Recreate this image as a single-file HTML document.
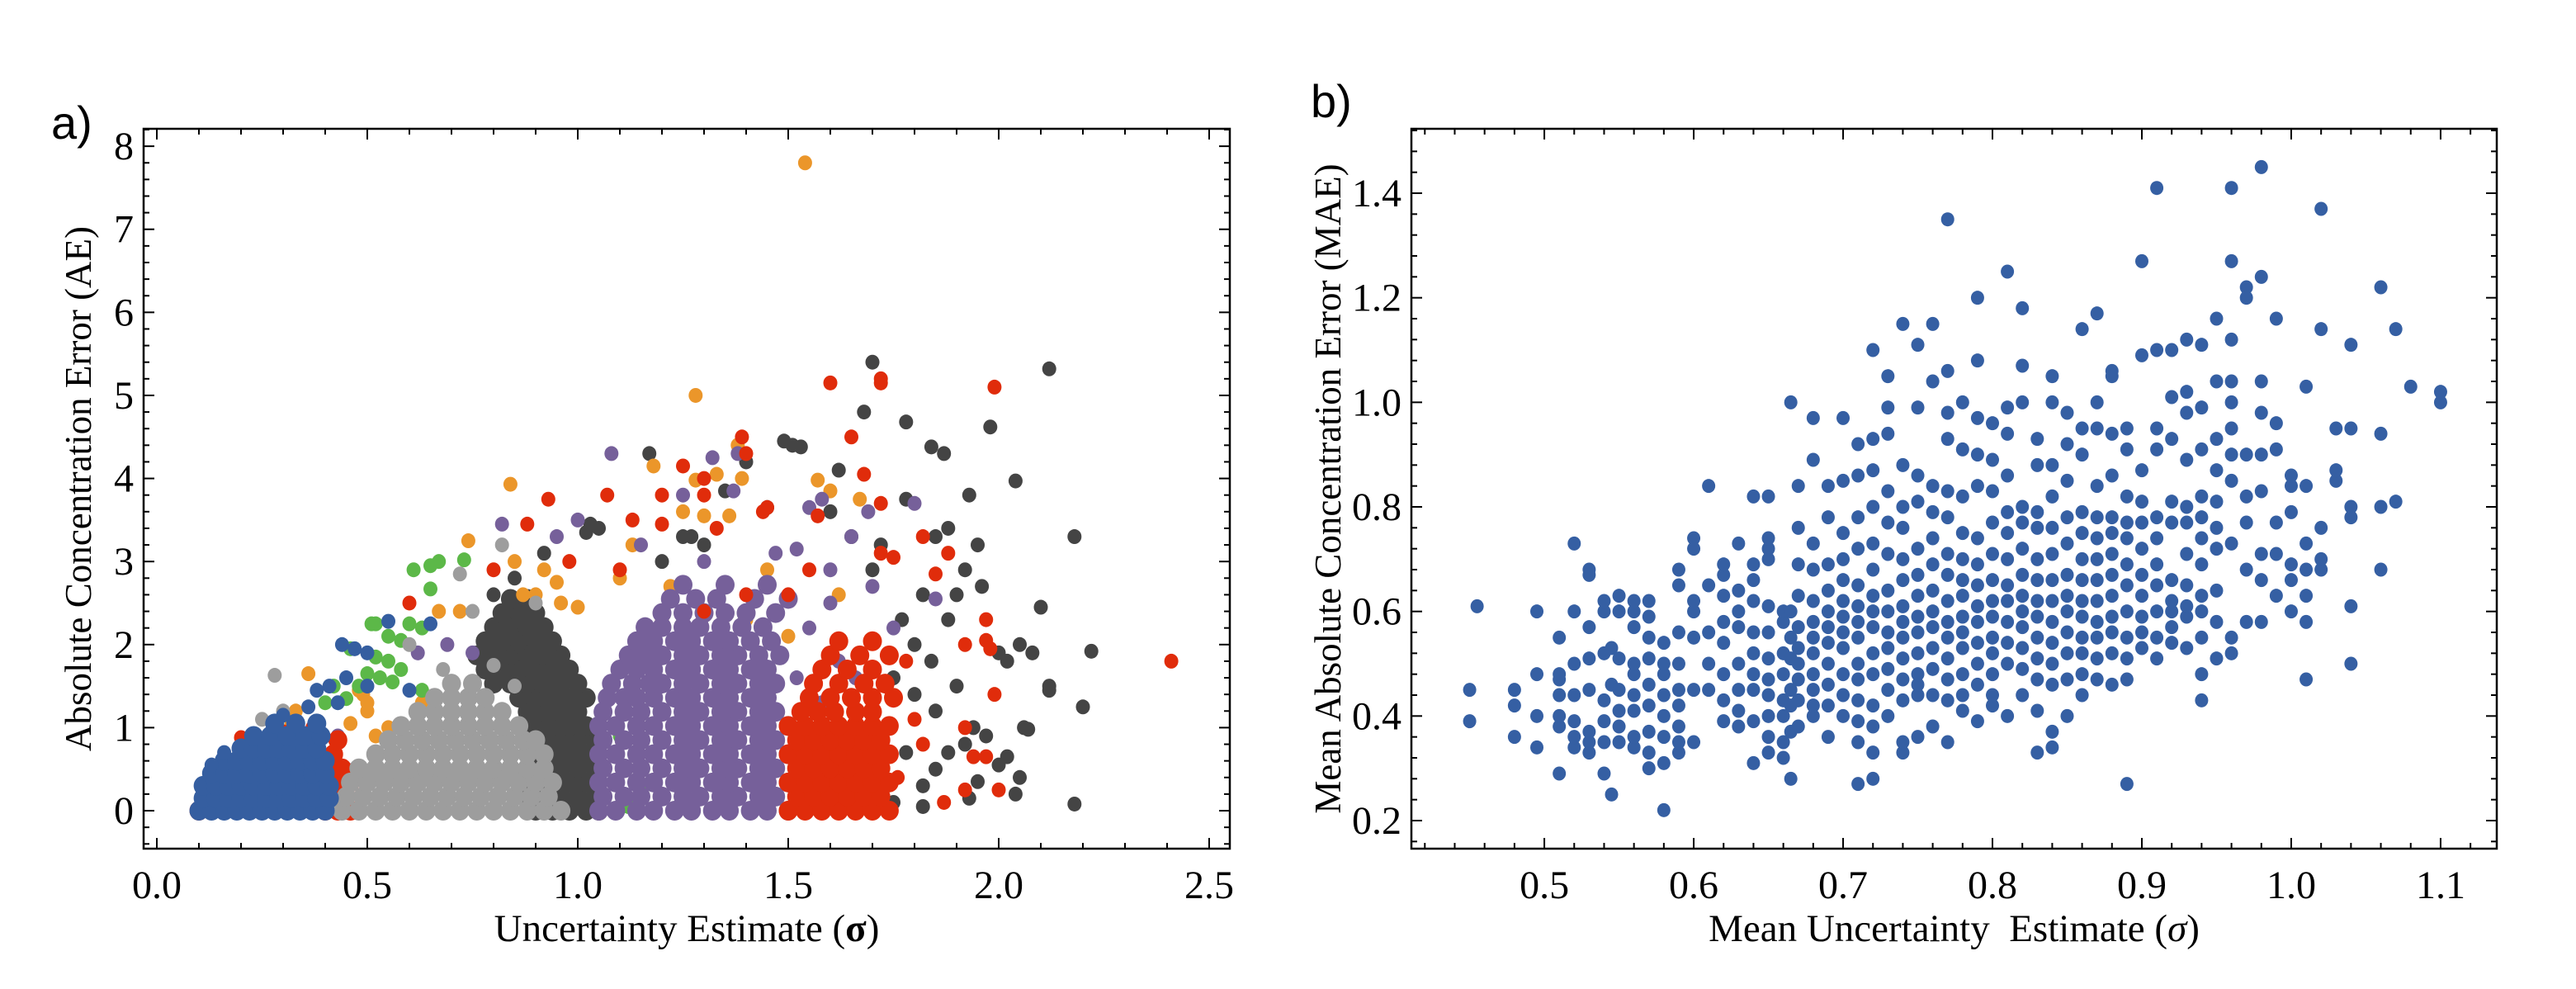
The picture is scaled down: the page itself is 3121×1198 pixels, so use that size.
<!DOCTYPE html>
<html><head><meta charset="utf-8"><style>
html,body{margin:0;padding:0;background:#fff;}
svg{display:block;}
text{font-family:"Liberation Serif",serif;fill:#000;}
.lbl{font-family:"Liberation Sans",sans-serif;}
</style></head><body>
<svg id="fig" width="3121" height="1198" viewBox="0 0 3121 1198">
<text class="lbl" x="62" y="168" font-size="56">a)</text>
<text class="lbl" x="1588" y="142" font-size="56">b)</text>
<g id="pa"></g>
<g id="pb"></g>
</svg>
<script>
// ---------- Panel A data ----------
const aColors = {blue:"#355ea0", lgray:"#9d9d9d", dgray:"#444444", purple:"#76609a", red:"#e02c0b", orange:"#eb962a", green:"#5cb848"};
const aXTicks = [0.0,0.5,1.0,1.5,2.0,2.5];
const aXTickLabels = ["0.0","0.5","1.0","1.5","2.0","2.5"];
const aYTicks = [0,1,2,3,4,5,6,7,8];
const aYTickLabels = ["0","1","2","3","4","5","6","7","8"];
const dgrayRows = [
 [0,[0.9,0.94,0.98,1.02,1.05]],[0.17,[0.88,0.92,0.96,1.0,1.04]],[0.34,[0.9,0.94,0.98,1.02]],[0.51,[0.88,0.92,0.96,1.0,1.04]],
 [0.68,[0.9,0.94,0.98,1.02]],[0.85,[0.88,0.92,0.96,1.0,1.04]],[1.02,[0.9,0.94,0.98,1.02]],[1.19,[0.88,0.92,0.96,1.0]],
 [1.36,[0.86,0.9,0.94,0.98,1.02]],[1.53,[0.8,0.84,0.88,0.92,0.96,1.0]],[1.7,[0.78,0.82,0.86,0.9,0.94,0.98]],[1.87,[0.76,0.8,0.84,0.88,0.92,0.96]],
 [2.04,[0.78,0.82,0.86,0.9,0.94]],[2.21,[0.8,0.84,0.88,0.92]],[2.38,[0.82,0.86,0.9]],[2.55,[0.84,0.88]]
];
const purpleRows = [
 [0,[1.05,1.09,1.14,1.18,1.23,1.27,1.32,1.36,1.41,1.45,1.5]],[0.17,[1.06,1.11,1.15,1.2,1.25,1.29,1.34,1.38,1.43,1.47]],
 [0.34,[1.05,1.09,1.14,1.18,1.23,1.27,1.32,1.36,1.41,1.45,1.5]],[0.51,[1.06,1.11,1.15,1.2,1.25,1.29,1.34,1.38,1.43,1.47]],
 [0.68,[1.05,1.09,1.14,1.18,1.23,1.27,1.32,1.36,1.41,1.45,1.5]],[0.85,[1.06,1.11,1.15,1.2,1.25,1.29,1.34,1.38,1.43,1.47]],
 [1.02,[1.05,1.09,1.14,1.18,1.23,1.27,1.32,1.36,1.41,1.45,1.5]],[1.19,[1.06,1.11,1.15,1.2,1.25,1.29,1.34,1.38,1.43,1.47]],
 [1.36,[1.07,1.11,1.14,1.18,1.23,1.27,1.32,1.36,1.41,1.45]],[1.53,[1.08,1.13,1.17,1.2,1.25,1.29,1.34,1.38,1.43,1.47]],
 [1.7,[1.1,1.14,1.18,1.23,1.27,1.32,1.36,1.41,1.45]],[1.87,[1.12,1.16,1.2,1.25,1.29,1.34,1.38,1.43,1.48]],
 [2.04,[1.14,1.18,1.23,1.27,1.32,1.36,1.41,1.46]],[2.21,[1.16,1.2,1.25,1.29,1.34,1.39,1.44]],
 [2.38,[1.2,1.25,1.3,1.35,1.4,1.47]],[2.55,[1.22,1.28,1.33,1.42,1.5]],[2.72,[1.25,1.35,1.45]]
];
const redRows = [
 [0,[1.5,1.54,1.58,1.62,1.66,1.7,1.74]],[0.17,[1.52,1.56,1.6,1.64,1.68,1.72]],[0.34,[1.5,1.54,1.58,1.62,1.66,1.7,1.74]],
 [0.51,[1.52,1.56,1.6,1.64,1.68,1.72]],[0.68,[1.5,1.54,1.58,1.62,1.66,1.7,1.74]],[0.85,[1.52,1.56,1.6,1.64,1.68,1.72]],
 [1.02,[1.5,1.54,1.58,1.62,1.66,1.7,1.74]],[1.19,[1.53,1.57,1.61,1.66,1.7]],[1.36,[1.55,1.6,1.65,1.7,1.75]],
 [1.53,[1.56,1.62,1.68,1.73]],[1.7,[1.58,1.64,1.7]],[1.87,[1.6,1.67,1.74]],[2.04,[1.62,1.7]],
 [0,[0.1,0.4,0.43,0.46]],[0.17,[0.42,0.45]],[0.34,[0.43,0.46]],[0.51,[0.42,0.44]],[0.68,[0.42]],[0.85,[0.36,0.43]]
];
const lgrayRows = [
 [0,[0.44,0.48,0.52,0.56,0.6,0.64,0.68,0.72,0.76,0.8,0.84,0.88,0.92,0.96]],
 [0.17,[0.45,0.49,0.53,0.57,0.61,0.65,0.69,0.73,0.77,0.81,0.85,0.89,0.93]],
 [0.34,[0.46,0.5,0.54,0.58,0.62,0.66,0.7,0.74,0.78,0.82,0.86,0.9,0.94]],
 [0.51,[0.48,0.52,0.56,0.6,0.64,0.68,0.72,0.76,0.8,0.84,0.88,0.92]],
 [0.68,[0.52,0.56,0.6,0.64,0.68,0.72,0.76,0.8,0.84,0.88,0.92]],
 [0.85,[0.55,0.59,0.63,0.67,0.71,0.75,0.79,0.83,0.87,0.9]],
 [1.02,[0.58,0.62,0.66,0.7,0.74,0.78,0.82,0.86]],
 [1.19,[0.62,0.66,0.7,0.74,0.78,0.82]],[1.36,[0.66,0.7,0.74,0.78]],[1.53,[0.7,0.75]]
];
const blueRows = [
 [0,[0.1,0.13,0.16,0.19,0.22,0.25,0.28,0.31,0.34,0.37,0.4]],[0.15,[0.11,0.14,0.17,0.2,0.23,0.26,0.29,0.32,0.35,0.38,0.41]],
 [0.3,[0.11,0.14,0.17,0.2,0.23,0.26,0.29,0.32,0.35,0.38,0.41]],[0.45,[0.13,0.16,0.19,0.22,0.25,0.28,0.31,0.34,0.37,0.4]],
 [0.6,[0.16,0.19,0.22,0.25,0.28,0.31,0.34,0.37,0.4]],[0.75,[0.2,0.23,0.26,0.29,0.32,0.35,0.38]],
 [0.9,[0.23,0.27,0.31,0.35,0.39]],[1.05,[0.28,0.33,0.38]]
];
const dgrayPts = [[1.7,5.4],[2.12,5.32],[1.68,4.8],[1.78,4.68],[1.98,4.62],[1.84,4.38],[1.87,4.3],[1.53,4.38],[1.49,4.45],[1.51,4.4],[1.17,4.3],[2.04,3.97],[1.62,4.1],[1.93,3.8],[1.78,3.75],[2.18,3.3],[1.88,3.4],[1.85,3.3],[1.95,3.2],[1.92,2.9],[1.96,2.7],[2.1,2.45],[1.88,2.3],[1.82,2.6],[2.0,1.9],[2.02,1.8],[2.05,2.0],[2.08,1.9],[2.22,1.92],[2.12,1.5],[2.12,1.45],[2.2,1.25],[1.94,1.0],[1.97,0.9],[2.06,1.0],[2.07,0.98],[2.02,0.65],[2.05,0.4],[2.0,0.55],[2.04,0.2],[2.18,0.08],[1.93,0.15],[1.95,0.35],[1.92,0.8],[1.85,1.2],[1.9,1.5],[1.8,2.0],[1.75,1.6],[1.7,2.9],[1.65,3.3],[1.6,3.6],[1.45,3.65],[1.4,4.2],[1.35,3.85],[1.25,3.3],[1.27,3.3],[1.03,3.45],[1.02,3.35],[1.05,3.4],[0.92,3.1],[0.85,2.8],[0.8,2.6],[1.85,0.5],[1.82,0.3],[1.75,0.1],[1.88,0.7],[1.78,0.7],[1.8,1.4],[1.77,2.3],[1.84,1.8],[1.9,2.6],[1.82,0.05],[1.72,3.2],[1.3,3.2],[1.2,3.0]];
const purplePts = [[1.08,4.3],[1.38,4.3],[1.32,4.25],[0.82,3.45],[1.0,3.5],[1.25,3.8],[1.37,3.85],[1.55,3.65],[1.58,3.75],[1.69,3.6],[1.8,3.7],[1.65,3.3],[1.52,3.15],[1.47,3.1],[1.7,2.7],[1.6,2.5],[1.75,2.2],[1.62,1.8],[1.66,1.6],[1.58,1.3],[1.65,1.0],[1.7,0.7],[1.68,0.3],[1.62,0.1],[1.57,0.6],[0.62,1.9],[0.69,2.0],[0.7,1.5],[0.75,1.9],[0.95,3.3],[1.15,3.2],[1.3,3.0],[0.47,0.5],[0.43,0.9],[1.85,2.55],[1.55,2.2],[1.6,2.9],[1.52,1.6]];
const redPts = [[1.6,5.15],[1.72,5.2],[1.72,5.15],[1.99,5.1],[1.39,4.5],[1.65,4.5],[1.4,4.3],[1.25,4.15],[1.3,4.0],[1.68,4.05],[1.07,3.8],[1.2,3.8],[1.3,3.8],[0.93,3.75],[1.72,3.7],[1.44,3.6],[1.45,3.65],[1.13,3.5],[1.2,3.45],[1.33,3.4],[1.57,3.55],[0.88,3.45],[1.75,3.05],[1.72,3.1],[1.82,3.3],[1.88,3.1],[1.85,2.85],[1.97,2.3],[1.97,2.05],[1.98,1.95],[1.92,2.0],[2.41,1.8],[1.99,1.4],[1.92,1.0],[1.94,0.65],[1.97,0.65],[1.92,0.25],[1.87,0.1],[2.0,0.25],[0.2,0.88],[0.12,0.05],[0.37,1.0],[0.33,1.05],[0.3,0.95],[1.78,1.8],[1.8,1.1],[1.76,0.4],[1.82,0.8],[1.4,2.6],[1.3,2.4],[1.1,2.9],[0.98,3.0],[1.5,2.6],[1.55,2.9],[0.6,2.5],[0.8,2.9]];
const orangePts = [[1.54,7.8],[1.28,5.0],[0.84,3.93],[1.38,4.4],[1.33,4.05],[1.28,3.98],[1.39,4.0],[1.18,4.15],[1.57,3.98],[1.6,3.85],[0.74,3.25],[1.25,3.6],[1.3,3.55],[1.36,3.55],[0.85,3.0],[0.67,2.4],[0.72,2.4],[0.36,1.65],[0.33,1.2],[0.32,1.05],[0.48,1.45],[0.49,1.4],[0.5,1.3],[0.5,1.2],[0.46,1.05],[0.52,0.9],[0.55,1.0],[0.63,1.3],[0.9,2.6],[0.96,2.5],[1.0,2.45],[1.1,2.8],[1.35,2.7],[1.4,2.3],[1.2,2.3],[1.13,3.2],[0.95,2.75],[0.92,2.9],[0.87,2.6],[1.5,2.1],[1.62,2.6],[1.67,3.75],[1.22,2.7],[1.45,2.9]];
const greenPts = [[0.61,2.9],[0.65,2.95],[0.67,3.0],[0.73,3.02],[0.65,2.67],[0.52,2.25],[0.51,2.25],[0.6,2.25],[0.63,2.2],[0.55,2.1],[0.58,2.05],[0.46,1.95],[0.52,1.85],[0.55,1.8],[0.58,1.7],[0.5,1.65],[0.53,1.6],[0.56,1.55],[0.48,1.5],[0.42,1.5],[0.4,1.3],[0.45,1.35],[0.63,1.45],[1.1,0.9],[1.15,0.3],[1.12,0.05],[1.25,1.1],[1.08,1.5]];
const lgrayPts = [[0.28,1.63],[0.6,2.0],[0.72,2.85],[0.75,2.4],[0.8,1.75],[0.82,3.2],[0.9,2.5],[0.25,1.1],[0.3,1.2],[0.68,1.7],[0.85,1.5]];
const bluePts = [[0.43,1.3],[0.45,1.6],[0.47,1.95],[0.5,1.9],[0.55,2.28],[0.6,1.45],[0.65,2.25],[0.36,1.25],[0.41,1.5],[0.5,1.5],[0.44,2.0],[0.38,1.45],[0.13,0.55],[0.16,0.7],[0.3,1.15]];

// ---------- Panel B data ----------
const bXTicks = [0.5,0.6,0.7,0.8,0.9,1.0,1.1];
const bXTickLabels = ["0.5","0.6","0.7","0.8","0.9","1.0","1.1"];
const bYTicks = [0.2,0.4,0.6,0.8,1.0,1.2,1.4];
const bYTickLabels = ["0.2","0.4","0.6","0.8","1.0","1.2","1.4"];
const bCols = [
[0.45,[0.45,0.39]],[0.455,[0.61]],[0.48,[0.36,0.42,0.45]],[0.495,[0.34,0.48,0.40,0.60]],
[0.51,[0.29,0.38,0.40,0.44,0.47,0.48,0.55]],[0.52,[0.34,0.36,0.39,0.44,0.50,0.60,0.73]],
[0.53,[0.33,0.35,0.37,0.45,0.51,0.57,0.68,0.67]],[0.54,[0.29,0.35,0.39,0.43,0.52,0.60,0.62]],
[0.545,[0.25,0.46,0.53]],[0.55,[0.35,0.38,0.41,0.45,0.51,0.60,0.63]],
[0.56,[0.34,0.36,0.41,0.44,0.48,0.50,0.57,0.60,0.62]],[0.57,[0.30,0.33,0.37,0.42,0.46,0.51,0.55,0.59,0.62]],
[0.58,[0.22,0.31,0.36,0.40,0.44,0.48,0.50,0.54]],[0.59,[0.33,0.35,0.38,0.42,0.45,0.50,0.56,0.65,0.68]],
[0.60,[0.35,0.45,0.55,0.60,0.62,0.74,0.72]],[0.61,[0.45,0.50,0.56,0.65,0.84]],
[0.62,[0.39,0.43,0.48,0.54,0.58,0.63,0.67,0.69]],[0.63,[0.38,0.41,0.45,0.50,0.57,0.60,0.64,0.73]],
[0.64,[0.31,0.39,0.45,0.48,0.52,0.56,0.62,0.66,0.69,0.82]],[0.65,[0.33,0.36,0.40,0.44,0.47,0.51,0.56,0.61,0.70,0.72,0.74,0.82]],
[0.66,[0.32,0.35,0.40,0.43,0.48,0.52,0.58,0.60]],[0.665,[0.28,0.37,0.42,0.45,0.51,0.55,0.60,1.00]],
[0.67,[0.38,0.43,0.47,0.50,0.53,0.57,0.63,0.69,0.76,0.84]],[0.68,[0.40,0.42,0.45,0.48,0.52,0.55,0.58,0.62,0.68,0.73,0.89,0.97]],
[0.69,[0.36,0.42,0.46,0.50,0.54,0.57,0.60,0.64,0.69,0.78,0.84]],[0.70,[0.40,0.44,0.48,0.53,0.56,0.59,0.62,0.66,0.70,0.75,0.85,0.97]],
[0.71,[0.27,0.35,0.39,0.43,0.47,0.50,0.55,0.58,0.61,0.65,0.72,0.78,0.86,0.92]],
[0.72,[0.28,0.33,0.38,0.42,0.48,0.52,0.57,0.60,0.63,0.68,0.73,0.80,0.87,0.93,1.10]],
[0.73,[0.40,0.45,0.49,0.53,0.56,0.60,0.64,0.71,0.77,0.83,0.94,0.99,1.05]],
[0.74,[0.33,0.35,0.43,0.47,0.51,0.55,0.58,0.61,0.66,0.70,0.76,0.80,0.88,1.15]],
[0.75,[0.36,0.44,0.46,0.48,0.52,0.56,0.59,0.63,0.67,0.72,0.81,0.86,0.99,1.11]],
[0.76,[0.38,0.44,0.49,0.53,0.57,0.60,0.64,0.69,0.74,0.79,0.84,1.04,1.15]],
[0.77,[0.35,0.43,0.47,0.51,0.55,0.58,0.62,0.67,0.71,0.78,0.83,0.93,0.98,1.35,1.06]],
[0.78,[0.41,0.44,0.48,0.53,0.56,0.59,0.63,0.66,0.70,0.75,0.82,0.91,1.00]],
[0.79,[0.39,0.46,0.50,0.54,0.58,0.61,0.65,0.69,0.74,0.84,0.90,0.97,1.08,1.20]],
[0.80,[0.42,0.44,0.48,0.52,0.55,0.59,0.62,0.66,0.71,0.77,0.83,0.89,0.96]],
[0.81,[0.40,0.50,0.54,0.58,0.62,0.65,0.70,0.75,0.79,0.86,0.94,0.99,1.25]],
[0.82,[0.44,0.49,0.53,0.57,0.60,0.63,0.67,0.72,0.77,0.80,1.00,1.07,1.18]],
[0.83,[0.33,0.41,0.47,0.51,0.55,0.59,0.62,0.66,0.70,0.76,0.79,0.88,0.93]],
[0.84,[0.34,0.37,0.46,0.50,0.54,0.58,0.62,0.66,0.71,0.76,0.82,0.88,1.00,1.05]],
[0.85,[0.40,0.47,0.52,0.56,0.60,0.63,0.67,0.73,0.78,0.85,0.92,0.98]],
[0.86,[0.44,0.48,0.52,0.55,0.59,0.62,0.66,0.70,0.75,0.79,0.90,0.95,1.14]],
[0.87,[0.47,0.51,0.55,0.58,0.62,0.66,0.70,0.74,0.78,0.84,0.95,1.00,1.17]],
[0.88,[0.46,0.52,0.56,0.59,0.63,0.67,0.71,0.75,0.78,0.86,0.94,1.06,1.05]],
[0.89,[0.27,0.47,0.51,0.55,0.60,0.65,0.69,0.74,0.77,0.82,0.91,0.95]],
[0.90,[0.53,0.56,0.59,0.63,0.67,0.72,0.77,0.81,0.87,1.09,1.27]],
[0.91,[0.51,0.55,0.60,0.65,0.69,0.74,0.78,0.91,0.95,1.10,1.41]],
[0.92,[0.54,0.57,0.60,0.62,0.66,0.77,0.81,0.93,1.01,1.10]],
[0.93,[0.53,0.59,0.61,0.65,0.71,0.77,0.80,0.89,0.98,1.02,1.12]],
[0.94,[0.43,0.48,0.55,0.60,0.63,0.69,0.74,0.78,0.82,0.91,0.99,1.11]],
[0.95,[0.51,0.58,0.64,0.72,0.76,0.81,0.87,0.93,1.04,1.16]],
[0.96,[0.52,0.55,0.73,0.85,0.90,0.95,1.00,1.04,1.12,1.27,1.41]],
[0.97,[0.58,0.68,0.77,0.82,0.90,1.22,1.20]],[0.98,[0.58,0.66,0.71,0.83,0.90,0.98,1.04,1.24,1.45]],
[0.99,[0.63,0.71,0.77,0.91,0.96,1.16]],[1.00,[0.60,0.66,0.69,0.79,0.84,0.86]],
[1.01,[0.47,0.58,0.63,0.68,0.73,0.84,1.03]],[1.02,[0.68,0.70,0.76,1.14,1.37]],
[1.03,[0.85,0.87,0.95]],[1.04,[0.50,0.61,0.78,0.80,0.95,1.11]],[1.06,[0.68,0.80,0.94,1.22]],
[1.07,[0.81,1.14]],[1.08,[1.03]],[1.10,[1.00,1.02]]
];

const NS = "http://www.w3.org/2000/svg";
function mk(tag, attrs, parent){const e=document.createElementNS(NS,tag);for(const k in attrs)e.setAttribute(k,attrs[k]);parent.appendChild(e);return e;}

function axes(g, box, xr, yr, xt, xtl, yt, ytl, xminor, yminor, xlabel, ylabel, prefix){
  const sx=v=>box.x0+(v-xr[0])/(xr[1]-xr[0])*(box.x1-box.x0);
  const sy=v=>box.y1-(v-yr[0])/(yr[1]-yr[0])*(box.y1-box.y0);
  return {sx,sy,draw:function(){
    const f=mk("rect",{x:box.x0,y:box.y0,width:box.x1-box.x0,height:box.y1-box.y0,fill:"none",stroke:"#000","stroke-width":2.5},g);
    
    
    const tg=mk("g",{stroke:"#000","stroke-width":2},g);
    
    
    for(let v=Math.ceil(xr[0]/xminor)*xminor; v<=xr[1]+1e-9; v+=xminor){
      const major=xt.some(t=>Math.abs(t-v)<1e-6); const L=major?13:7; const x=sx(v);
      mk("line",{x1:x,x2:x,y1:box.y1,y2:box.y1-L},tg); mk("line",{x1:x,x2:x,y1:box.y0,y2:box.y0+L},tg);
    }
    for(let v=Math.ceil(yr[0]/yminor)*yminor; v<=yr[1]+1e-9; v+=yminor){
      const major=yt.some(t=>Math.abs(t-v)<1e-6); const L=major?13:7; const y=sy(v);
      mk("line",{x1:box.x0,x2:box.x0+L,y1:y,y2:y},tg); mk("line",{x1:box.x1,x2:box.x1-L,y1:y,y2:y},tg);
    }
    xt.forEach((v,i)=>{const t=mk("text",{x:sx(v),y:box.y1+60,"font-size":48,"text-anchor":"middle"},g);t.textContent=xtl[i];
      
      });
    yt.forEach((v,i)=>{const t=mk("text",{x:box.x0-12,y:sy(v)+16,"font-size":48,"text-anchor":"end"},g);t.textContent=ytl[i];
      
      });
    const xl=mk("text",{x:(box.x0+box.x1)/2,y:box.y1+112,"font-size":47,"text-anchor":"middle"},g);xl.innerHTML=xlabel;
    
    
    const cy=(box.y0+box.y1)/2, cx=box.x0-(prefix==="a"?64:86);
    const yl=mk("text",{x:cx,y:cy,"font-size":45,"text-anchor":"middle",transform:`rotate(-90 ${cx} ${cy})`},g);yl.textContent=ylabel;
    
    
  }};
}

// ----- Panel A -----
const ga=document.getElementById("pa");
const A=axes(ga,{x0:174,x1:1490,y0:156,y1:1028},[-0.0314,2.549],[-0.457,8.21],aXTicks,aXTickLabels,aYTicks,aYTickLabels,0.1,0.2,
  'Uncertainty Estimate (<tspan font-weight="bold">σ</tspan>)','Absolute Concentration Error (AE)','a');
const clipA=mk("clipPath",{id:"ca"},ga); mk("rect",{x:174,y:156,width:1316,height:872},clipA);
const ptsA=mk("g",{"clip-path":"url(#ca)"},ga);


function dotA(x,y,c,name,r){const d=mk("ellipse",{cx:A.sx(x),cy:A.sy(y),rx:r,ry:r+0.5,fill:c},ptsA);
  
  }
function rowsA(rows,c,name){rows.forEach(r=>r[1].forEach(x=>dotA(x,r[0],c,name,11.5)));}
function ptsListA(list,c,name){list.forEach(p=>dotA(p[0],p[1],c,name,8.5));}
rowsA(dgrayRows,aColors.dgray,'point-dark-gray');
ptsListA(dgrayPts,aColors.dgray,'point-dark-gray');
ptsListA(orangePts,aColors.orange,'point-orange');
ptsListA(greenPts,aColors.green,'point-green');
rowsA(purpleRows,aColors.purple,'point-purple');
ptsListA(purplePts,aColors.purple,'point-purple');
rowsA(redRows,aColors.red,'point-red');
ptsListA(redPts,aColors.red,'point-red');
rowsA(lgrayRows,aColors.lgray,'point-light-gray');
ptsListA(lgrayPts,aColors.lgray,'point-light-gray');
rowsA(blueRows,aColors.blue,'point-blue');
ptsListA(bluePts,aColors.blue,'point-blue');
A.draw();

// ----- Panel B -----
const gb=document.getElementById("pb");
const B=axes(gb,{x0:1710,x1:3025,y0:156,y1:1028},[0.411,1.1376],[0.1463,1.5232],bXTicks,bXTickLabels,bYTicks,bYTickLabels,0.02,0.04,
  'Mean Uncertainty&#160; Estimate (<tspan font-style="italic">σ</tspan>)','Mean Absolute Concentration Error (MAE)','b');
const ptsB=mk("g",{},gb);


bCols.forEach(c=>c[1].forEach(y=>{
  const d=mk("ellipse",{cx:B.sx(c[0]),cy:B.sy(y),rx:8,ry:8.5,fill:"#355fa3"},ptsB);
  
  
}));
B.draw();
</script>
</body></html>
